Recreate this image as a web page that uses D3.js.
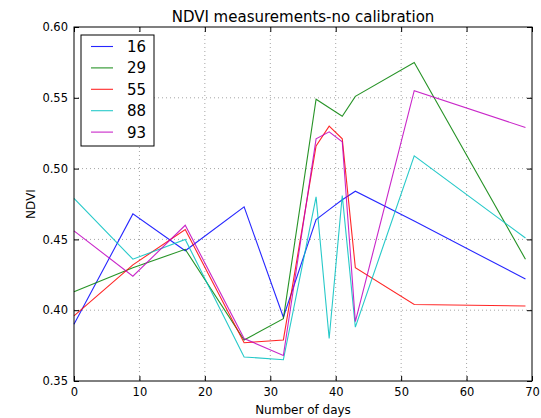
<!DOCTYPE html>
<html>
<head>
<meta charset="utf-8">
<script src="https://cdn.jsdelivr.net/npm/d3@7"></script>
<style>
  body { margin: 0; background: #fff; }
  text { font-family: "DejaVu Sans", sans-serif; fill: #000; }
</style>
</head>
<body>
<div id="chart"></div>
<script>
var svgWidth = 541;
var svgHeight = 418;

var margin = { top: 27, right: 9, bottom: 37, left: 74 };
var width = svgWidth - margin.left - margin.right;
var height = svgHeight - margin.top - margin.bottom;

// data
var days = [0, 9, 17, 26, 32, 37, 39, 41, 43, 52, 69];
var seriesNames = ["16", "29", "55", "88", "93"];
var s16 = [0.390, 0.468, 0.442, 0.473, 0.395, 0.464, 0.471, 0.478, 0.484, 0.463, 0.422];
var s29 = [0.413, 0.430, 0.443, 0.379, 0.394, 0.549, 0.543, 0.537, 0.551, 0.575, 0.436];
var s55 = [0.396, 0.432, 0.457, 0.377, 0.379, 0.516, 0.530, 0.521, 0.430, 0.404, 0.403];
var s88 = [0.479, 0.436, 0.450, 0.367, 0.365, 0.480, 0.380, 0.481, 0.388, 0.509, 0.451];
var s93 = [0.456, 0.424, 0.460, 0.380, 0.368, 0.521, 0.526, 0.519, 0.392, 0.555, 0.529];
var seriesValues = [s16, s29, s55, s88, s93];
var colors = ["#0000ff", "#008000", "#ff0000", "#00bfbf", "#bf00bf"];

var xTicks = [0, 10, 20, 30, 40, 50, 60, 70];
var yTicks = [0.35, 0.40, 0.45, 0.50, 0.55, 0.60];

var svg = d3.select("#chart")
  .append("svg")
  .attr("width", svgWidth)
  .attr("height", svgHeight);

var chartGroup = svg.append("g")
  .attr("transform", `translate(${margin.left}, ${margin.top})`);

var xScale = d3.scaleLinear().domain([0, 70]).range([0, width]);
var yScale = d3.scaleLinear().domain([0.35, 0.60]).range([height, 0]);

// grid
chartGroup.append("g")
  .selectAll("line")
  .data(xTicks.slice(1, -1))
  .enter()
  .append("line")
  .attr("x1", d => xScale(d)).attr("x2", d => xScale(d))
  .attr("y1", 0).attr("y2", height)
  .attr("stroke", "#000").attr("stroke-opacity", 0.45)
  .attr("stroke-width", 0.8).attr("stroke-dasharray", "1,3");

chartGroup.append("g")
  .selectAll("line")
  .data(yTicks.slice(1, -1))
  .enter()
  .append("line")
  .attr("x1", 0).attr("x2", width)
  .attr("y1", d => yScale(d)).attr("y2", d => yScale(d))
  .attr("stroke", "#000").attr("stroke-opacity", 0.45)
  .attr("stroke-width", 0.8).attr("stroke-dasharray", "1,3");

// lines
var line = d3.line()
  .x((d, i) => xScale(days[i]))
  .y(d => yScale(d));

chartGroup.selectAll(".series")
  .data(seriesValues)
  .enter()
  .append("path")
  .classed("series", true)
  .attr("d", d => line(d))
  .attr("fill", "none")
  .attr("stroke", (d, i) => colors[i])
  .attr("stroke-width", 1.1)
  .attr("stroke-opacity", 0.85);

// axes, ticks inside like matplotlib classic
var bottomAxis = d3.axisBottom(xScale).tickValues(xTicks).tickSize(-5).tickPadding(7).tickFormat(d3.format("d"));
var leftAxis = d3.axisLeft(yScale).tickValues(yTicks).tickSize(-5).tickPadding(6).tickFormat(d3.format(".2f"));
var topAxis = d3.axisTop(xScale).tickValues(xTicks).tickSize(-5).tickFormat("");
var rightAxis = d3.axisRight(yScale).tickValues(yTicks).tickSize(-5).tickFormat("");

var xAxis = chartGroup.append("g")
  .attr("transform", `translate(0, ${height})`)
  .call(bottomAxis);
var yAxis = chartGroup.append("g").call(leftAxis);
chartGroup.append("g").call(topAxis);
chartGroup.append("g").attr("transform", `translate(${width}, 0)`).call(rightAxis);

chartGroup.selectAll(".domain").remove();
chartGroup.selectAll(".tick line").attr("stroke", "#000");
chartGroup.selectAll(".tick text").attr("font-size", "11.5px").attr("fill", "#000");

// frame
chartGroup.append("rect")
  .attr("width", width).attr("height", height)
  .attr("fill", "none").attr("stroke", "#000").attr("stroke-width", 1);

// title and labels
svg.append("text")
  .attr("x", margin.left + width / 2).attr("y", 22)
  .attr("text-anchor", "middle").attr("font-size", "15px")
  .text("NDVI measurements-no calibration");

svg.append("text")
  .attr("x", margin.left + width / 2).attr("y", 414)
  .attr("text-anchor", "middle").attr("font-size", "12px")
  .text("Number of days");

svg.append("text")
  .attr("transform", `translate(35, ${margin.top + height / 2}) rotate(-90)`)
  .attr("text-anchor", "middle").attr("font-size", "12px")
  .text("NDVI");

// legend
var legend = chartGroup.append("g").attr("transform", "translate(7, 8)");
legend.append("rect")
  .attr("width", 73).attr("height", 111)
  .attr("fill", "#fff").attr("stroke", "#000").attr("stroke-width", 1);

var legendRows = legend.selectAll(".row")
  .data(seriesNames)
  .enter()
  .append("g")
  .attr("transform", (d, i) => `translate(0, ${11.5 + i * 21.4})`);

legendRows.append("line")
  .attr("x1", 10).attr("x2", 32)
  .attr("stroke", (d, i) => colors[i]).attr("stroke-width", 1.1).attr("stroke-opacity", 0.85);

legendRows.append("text")
  .attr("x", 65).attr("dy", "0.36em")
  .attr("text-anchor", "end").attr("font-size", "15px")
  .text(d => d);
</script>
</body>
</html>
